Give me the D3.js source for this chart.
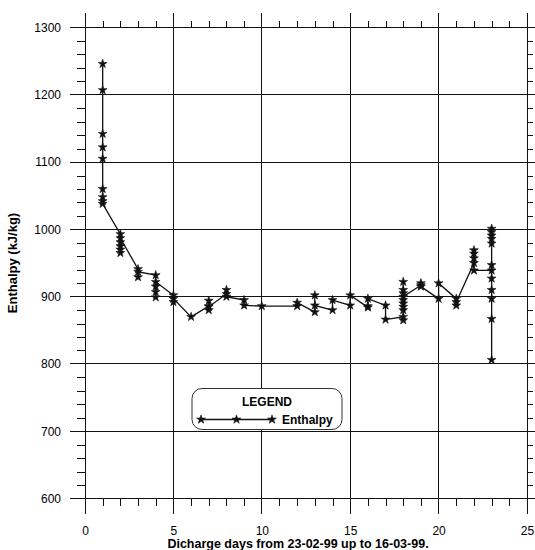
<!DOCTYPE html>
<html>
<head>
<meta charset="utf-8">
<script src="https://cdn.jsdelivr.net/npm/d3@7"></script>
<style>
  html, body { margin: 0; padding: 0; background: #fff; }
  svg { display: block; font-family: "Liberation Sans", Arial, sans-serif; }
</style>
</head>
<body>
<svg id="chart" width="535" height="550"></svg>
<script>
// Enthalpy readings per discharge day (in measurement order within each day)
const days = [
  1, 1, 1, 1, 1, 1, 1, 1, 1,
  2, 2, 2, 2, 2, 2,
  3, 3, 3,
  4, 4, 4, 4, 4,
  5, 5, 5,
  6,
  7, 7, 7, 7,
  8, 8, 8,
  9, 9,
  10,
  12, 12,
  13, 13, 13,
  14, 14,
  15, 15,
  16, 16, 16,
  17, 17,
  18, 18, 18, 18, 18, 18, 18, 18, 18, 18,
  19, 19, 19,
  20, 20,
  21, 21, 21,
  22, 22, 22, 22, 22,
  23, 23, 23, 23, 23, 23, 23, 23, 23, 23, 23, 23
];
const enthalpy = [
  1246, 1207, 1142, 1122, 1105, 1060, 1048, 1042, 1038,
  993, 965, 970, 975, 981, 987,
  941, 929, 937,
  932, 899, 907, 915, 922,
  902, 892, 897,
  870,
  886, 894, 880, 885,
  904, 910, 900,
  895, 887,
  886,
  886, 891,
  877, 902, 887,
  880, 895,
  887, 902,
  884, 886, 897,
  887, 866,
  870, 865, 880, 885, 890, 895, 905, 910, 922, 900,
  917, 920, 915,
  897, 920,
  897, 887, 892,
  950, 969, 964, 957, 939,
  939, 1001, 996, 991, 986, 979, 947, 927, 910, 897, 867, 806
];

const xMajor = [0, 5, 10, 15, 20, 25];
const yMajor = [600, 700, 800, 900, 1000, 1100, 1200, 1300];
const xMinor = d3.range(0, 26, 1).filter(v => v % 5 !== 0);
const yMinor = d3.range(600, 1301, 20).filter(v => v % 100 !== 0);

const seriesName = "Enthalpy";
const xTitle = "Dicharge days from 23-02-99 up to 16-03-99.";
const yTitle = "Enthalpy (kJ/kg)";

const svg = d3.select("#chart");
const plotL = 85, plotR = 527, plotT = 27.5, plotB = 498.5;

const x = d3.scaleLinear().domain([0, 25]).range([plotL, plotR]);
const y = d3.scaleLinear().domain([600, 1300]).range([plotB, plotT]);

const ink = "#111";
const ext = 15;   // how far major lines run past the frame

// Major grid lines, running slightly past the frame on every side
const grid = svg.append("g").attr("stroke", ink).attr("stroke-width", 1).attr("shape-rendering", "crispEdges");
grid.selectAll(".gx").data(xMajor).join("line")
  .attr("x1", d => x(d)).attr("x2", d => x(d))
  .attr("y1", plotT - ext).attr("y2", plotB + ext);
grid.selectAll(".gy").data(yMajor).join("line")
  .attr("x1", plotL - ext).attr("x2", plotR + ext)
  .attr("y1", d => y(d)).attr("y2", d => y(d));

// Minor ticks on the outside of all four sides
function minorAxis(axis, transform, values, size) {
  const g = svg.append("g").attr("transform", transform)
    .call(axis.tickValues(values).tickSize(size).tickFormat(""));
  g.select(".domain").remove();
  g.selectAll(".tick line").attr("stroke", ink).attr("shape-rendering", "crispEdges");
}
minorAxis(d3.axisBottom(x), `translate(0,${plotB})`, xMinor, 7);
minorAxis(d3.axisTop(x), `translate(0,${plotT})`, xMinor, 7);
minorAxis(d3.axisLeft(y), `translate(${plotL},0)`, yMinor, 8);
minorAxis(d3.axisRight(y), `translate(${plotR},0)`, yMinor, 6);

// Tick labels
const xAxis = svg.append("g").attr("transform", `translate(0,${plotB})`)
  .call(d3.axisBottom(x).tickValues(xMajor).tickFormat(d3.format("d")).tickSize(0).tickPadding(28));
const yAxis = svg.append("g").attr("transform", `translate(${plotL},0)`)
  .call(d3.axisLeft(y).tickValues(yMajor).tickFormat(d3.format("d")).tickSize(0).tickPadding(24));
[xAxis, yAxis].forEach(g => {
  g.select(".domain").remove();
  g.selectAll("text").attr("font-size", 12).attr("fill", "#000")
    .attr("font-family", "'Liberation Sans', Arial, sans-serif");
});

// Axis titles
svg.append("text")
  .attr("x", 298).attr("y", 548)
  .attr("text-anchor", "middle").attr("font-size", 12.5).attr("font-weight", "bold")
  .text(xTitle);
svg.append("text")
  .attr("transform", `translate(17,${(plotT + plotB) / 2}) rotate(-90)`)
  .attr("text-anchor", "middle").attr("font-size", 13).attr("font-weight", "bold")
  .text(yTitle);

// Series line and star markers
const pts = days.map((d, i) => [d, enthalpy[i]]);
svg.append("path")
  .datum(pts)
  .attr("fill", "none").attr("stroke", ink).attr("stroke-width", 1.3)
  .attr("d", d3.line().x(d => x(d[0])).y(d => y(d[1])));

const star = d3.symbol().type(d3.symbolStar).size(24);
svg.append("g").selectAll("path").data(pts).join("path")
  .attr("transform", d => `translate(${x(d[0])},${y(d[1])})`)
  .attr("d", star).attr("fill", ink).attr("stroke", ink).attr("stroke-width", 0.6);

// Legend box
const lg = svg.append("g");
lg.append("rect")
  .attr("x", 192).attr("y", 388.5).attr("width", 150).attr("height", 41)
  .attr("rx", 10).attr("ry", 10)
  .attr("fill", "#fff").attr("stroke", "#333").attr("stroke-width", 1);
lg.append("text")
  .attr("x", 267).attr("y", 406).attr("text-anchor", "middle")
  .attr("font-size", 12).attr("font-weight", "bold").text("LEGEND");
const legX = [201, 236.5, 272];
lg.append("line")
  .attr("x1", legX[0]).attr("x2", legX[2]).attr("y1", 419.5).attr("y2", 419.5)
  .attr("stroke", ink).attr("stroke-width", 1.3);
lg.selectAll(".ls").data(legX).join("path")
  .attr("transform", d => `translate(${d},419.5)`)
  .attr("d", star).attr("fill", ink).attr("stroke", ink).attr("stroke-width", 0.6);
lg.append("text")
  .attr("x", 282).attr("y", 424)
  .attr("font-size", 12).attr("font-weight", "bold").text(seriesName);
</script>
</body>
</html>
